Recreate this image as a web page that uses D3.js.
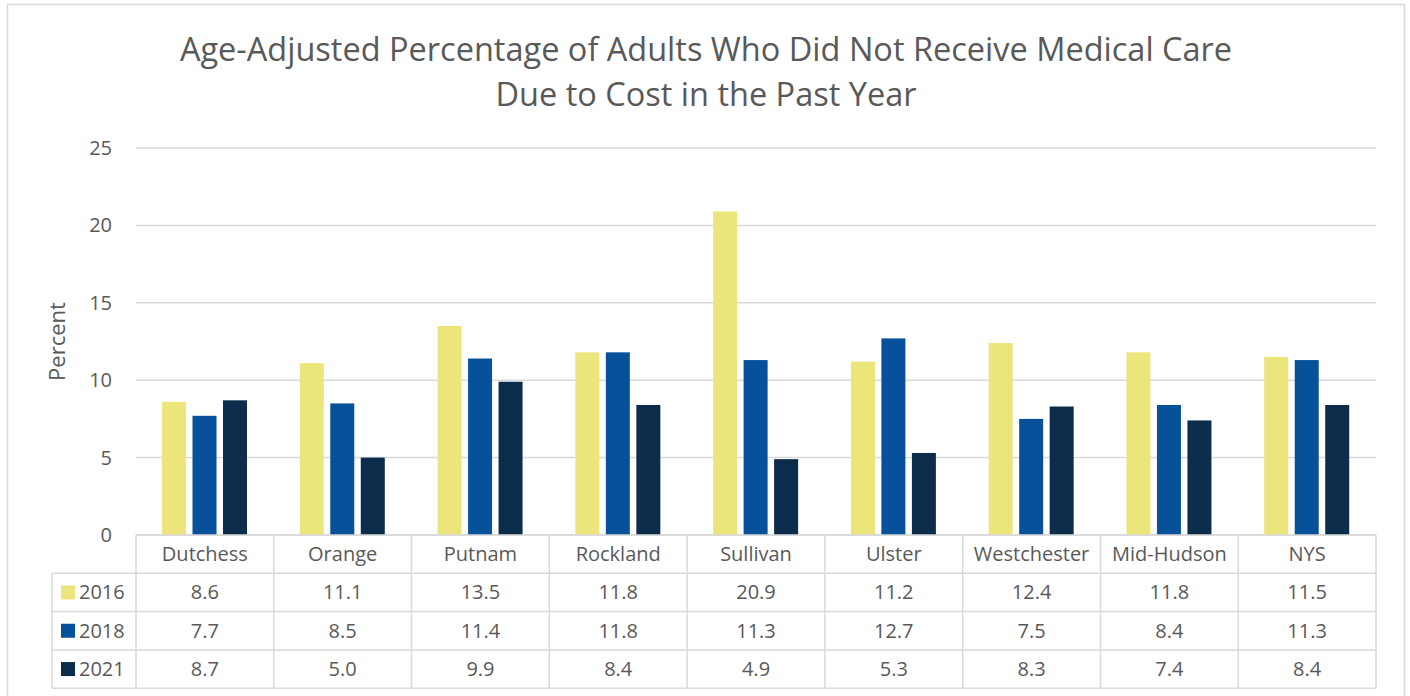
<!DOCTYPE html>
<html>
<head>
<meta charset="utf-8">
<script src="https://cdn.jsdelivr.net/npm/d3@7"></script>
<style>
  body { margin: 0; background: #fff; }
  text { font-family: "Open Sans", "Noto Sans", sans-serif; fill: #595959; }
</style>
</head>
<body>
<div class="container"></div>
<script>
// data
const categories = ["Dutchess", "Orange", "Putnam", "Rockland", "Sullivan", "Ulster", "Westchester", "Mid-Hudson", "NYS"]
const years = ["2016", "2018", "2021"]
const v2016 = [8.6, 11.1, 13.5, 11.8, 20.9, 11.2, 12.4, 11.8, 11.5]
const v2018 = [7.7, 8.5, 11.4, 11.8, 11.3, 12.7, 7.5, 8.4, 11.3]
const v2021 = [8.7, 5.0, 9.9, 8.4, 4.9, 5.3, 8.3, 7.4, 8.4]
const yTicks = [0, 5, 10, 15, 20, 25]
const colors = ["#ECE57C", "#07519A", "#0B2C4B"]

const series = [v2016, v2018, v2021]

const width = 1410
const height = 696
const margin = { top: 148, bottom: 161, left: 136, right: 34 }
const rowH = 38.3
const gridColor = "#d9d9d9"

const svg = d3.select(".container").append("svg").attr("width", width).attr("height", height)

// chart border
svg.append("rect").attr("x", 7.5).attr("y", 4.5).attr("width", 1397).attr("height", 700)
    .attr("fill", "none").attr("stroke", gridColor).attr("stroke-width", 1.5)

const x = d3.scaleBand().domain(categories).range([margin.left, width - margin.right])
// bars 24px wide, 30.5px step, group starts 26px into the band
const xs = d3.scaleBand().domain(years).range([26, 111]).paddingInner(6.5 / 30.5).paddingOuter(0)
const y = d3.scaleLinear().domain([0, 25]).range([height - margin.bottom, margin.top])

// gridlines
const yAxisGroup = svg.append("g").attr("id", "yAxisGroup")
yAxisGroup.selectAll("line").data(yTicks).join("line")
    .attr("x1", margin.left).attr("x2", width - margin.right)
    .attr("y1", d => y(d)).attr("y2", d => y(d))
    .attr("stroke", gridColor).attr("stroke-width", 1.5)
yAxisGroup.selectAll("text").data(yTicks).join("text")
    .attr("x", 112).attr("y", d => y(d)).attr("dy", "0.35em")
    .attr("text-anchor", "end").style("font-size", "20px")
    .text(d => d)

svg.append("text")
    .attr("transform", `translate(65, ${y(12.5)}) rotate(-90)`)
    .attr("text-anchor", "middle").style("font-size", "22px")
    .text("Percent")

// bars
const elementGroup = svg.append("g").attr("id", "elementGroup")
series.forEach((vals, si) => {
    elementGroup.append("g").selectAll("rect").data(vals).join("rect")
        .attr("x", (d, i) => x(categories[i]) + xs(years[si]))
        .attr("width", xs.bandwidth())
        .attr("y", d => y(d))
        .attr("height", d => y(0) - y(d))
        .attr("fill", colors[si])
})

// data table
const tableGroup = svg.append("g").attr("id", "tableGroup")
const top0 = y(0)
const legendLeft = 52
const right = width - margin.right
// horizontal lines
for (let r = 0; r <= 4; r++) {
    tableGroup.append("line")
        .attr("x1", r === 0 ? margin.left : legendLeft).attr("x2", right)
        .attr("y1", top0 + r * rowH).attr("y2", top0 + r * rowH)
        .attr("stroke", gridColor).attr("stroke-width", 1.5)
}
// vertical lines
const vx = categories.map(c => x(c)).concat([right])
vx.forEach(xx => {
    tableGroup.append("line").attr("x1", xx).attr("x2", xx)
        .attr("y1", top0).attr("y2", top0 + 4 * rowH)
        .attr("stroke", gridColor).attr("stroke-width", 1.5)
})
tableGroup.append("line").attr("x1", legendLeft).attr("x2", legendLeft)
    .attr("y1", top0 + rowH).attr("y2", top0 + 4 * rowH)
    .attr("stroke", gridColor).attr("stroke-width", 1.5)

// header
tableGroup.selectAll("text.cat").data(categories).join("text").attr("class", "cat")
    .attr("x", d => x(d) + x.bandwidth() / 2).attr("y", top0 + rowH / 2).attr("dy", "0.35em")
    .attr("text-anchor", "middle").style("font-size", "20px")
    .text(d => d)

series.forEach((vals, si) => {
    const cy = top0 + (si + 1) * rowH + rowH / 2
    tableGroup.append("rect").attr("x", 61).attr("y", cy - 7).attr("width", 14).attr("height", 14)
        .attr("fill", colors[si])
    tableGroup.append("text").attr("x", 79).attr("y", cy).attr("dy", "0.35em")
        .style("font-size", "20px").text(years[si])
    tableGroup.append("g").selectAll("text").data(vals).join("text")
        .attr("x", (d, i) => x(categories[i]) + x.bandwidth() / 2).attr("y", cy).attr("dy", "0.35em")
        .attr("text-anchor", "middle").style("font-size", "20px")
        .text(d => d.toFixed(1))
})

// title
const title = svg.append("text").attr("text-anchor", "middle").style("font-size", "32.5px")
title.append("tspan").attr("x", 706).attr("y", 61).text("Age-Adjusted Percentage of Adults Who Did Not Receive Medical Care")
title.append("tspan").attr("x", 706).attr("y", 106).text("Due to Cost in the Past Year")
</script>
</body>
</html>
